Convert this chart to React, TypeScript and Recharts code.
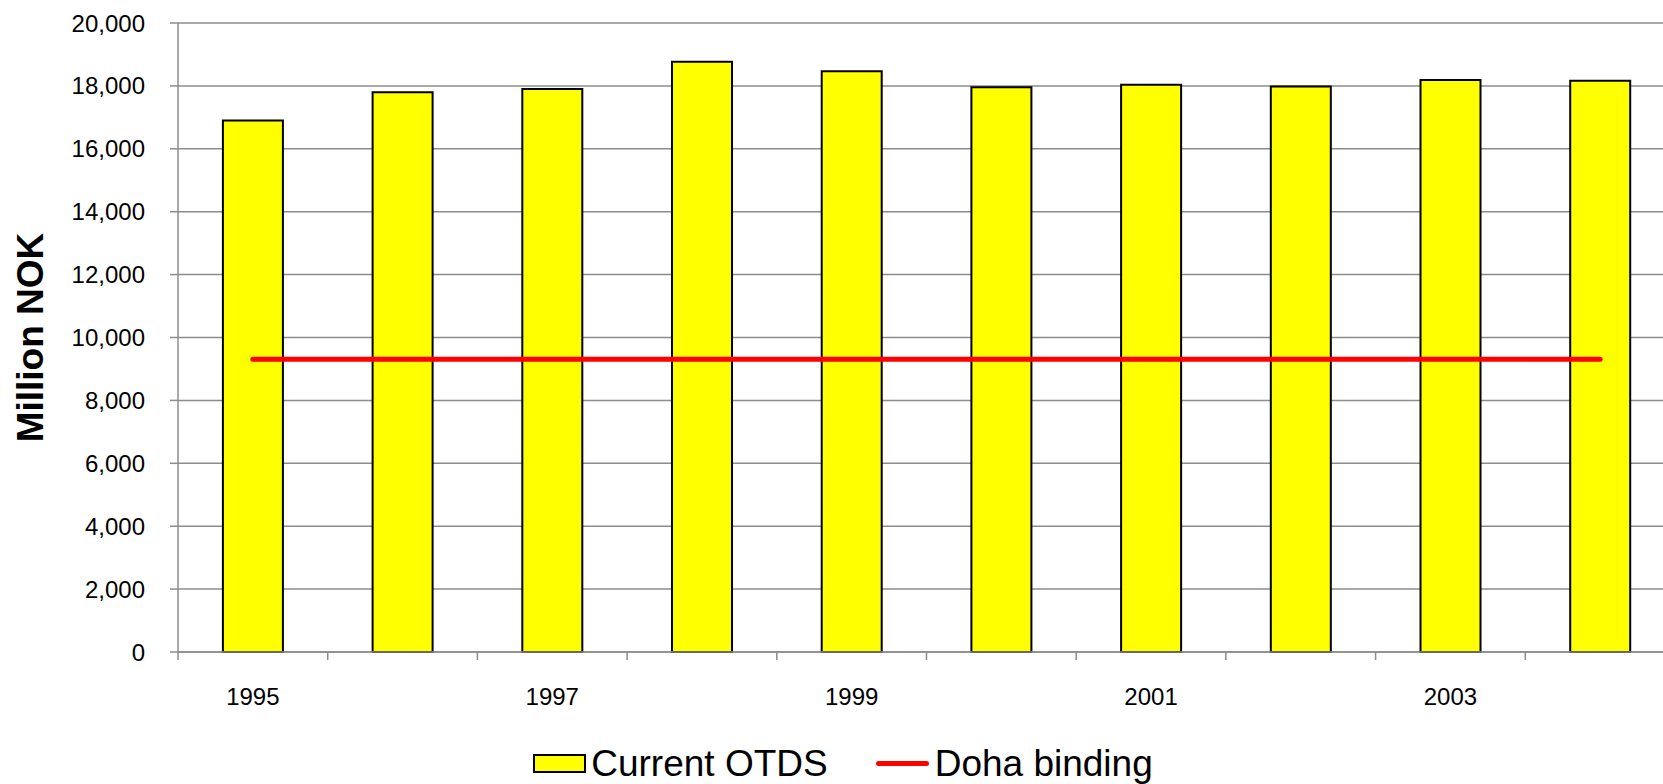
import React from 'react'
import {
  ComposedChart,
  Bar,
  Line,
  XAxis,
  YAxis,
  CartesianGrid,
  Legend,
} from 'recharts'

const years = ['1995', '1996', '1997', '1998', '1999', '2000', '2001', '2002', '2003', '2004']
const currentOtds = [16900, 17800, 17900, 18770, 18465, 17960, 18040, 17980, 18190, 18160]
const dohaBinding = [9310, 9310, 9310, 9310, 9310, 9310, 9310, 9310, 9310, 9310]
const yTicks = [0, 2000, 4000, 6000, 8000, 10000, 12000, 14000, 16000, 18000, 20000]

const data = years.map((year, i) => ({
  year,
  current: currentOtds[i],
  doha: dohaBinding[i],
}))

const FONT = '"Liberation Sans", Arial, sans-serif'
const GRID = '#8c8c8c'

// category tick: mark on the left boundary of each band, label on every other year
function YearTick(props: any) {
  const { x, y, payload, index } = props
  const half = payload && payload.offset ? payload.offset : 0
  return (
    <g>
      <line x1={x - half} x2={x - half} y1={y} y2={y + 8} stroke={GRID} strokeWidth={1.5} />
      {index % 2 === 0 && (
        <text x={x} y={y + 36} dy="0.71em" textAnchor="middle" fontSize={24} fill="#000">
          {payload.value}
        </text>
      )}
    </g>
  )
}

function ChartLegend() {
  return (
    <div
      style={{
        height: 72,
        display: 'flex',
        justifyContent: 'center',
        alignItems: 'center',
        fontFamily: FONT,
        fontSize: 37,
        lineHeight: 1,
        color: '#000',
        paddingTop: 30,
        boxSizing: 'border-box',
        paddingLeft: 11,
      }}
    >
      <span style={{ display: 'inline-flex', alignItems: 'center', marginRight: 48 }}>
        <span
          style={{
            width: 53,
            height: 19,
            background: '#ffff00',
            border: '2px solid #000',
            marginRight: 5,
            boxSizing: 'border-box',
          }}
        />
        Current OTDS
      </span>
      <span style={{ display: 'inline-flex', alignItems: 'center' }}>
        <span
          style={{
            width: 53,
            height: 5,
            background: '#ff0000',
            borderRadius: 3,
            marginRight: 6,
          }}
        />
        Doha binding
      </span>
    </div>
  )
}

export default function App() {
  return (
    <div
      style={{
        position: 'absolute',
        left: 0,
        top: 0,
        width: 1663,
        height: 784,
        overflow: 'hidden',
        background: '#fff',
      }}
    >
      <ComposedChart
        width={1680}
        height={784}
        data={data}
        margin={{ top: 23, right: 5, bottom: 0, left: 0 }}
        barCategoryGap="30%"
        style={{ fontFamily: FONT }}
      >
        <CartesianGrid vertical={false} stroke={GRID} strokeWidth={1.5} />
        <XAxis
          dataKey="year"
          interval={0}
          tickLine={false}
          tickSize={0}
          tickMargin={0}
          height={60}
          axisLine={{ stroke: GRID, strokeWidth: 1.5 }}
          tick={<YearTick />}
        />
        <YAxis
          domain={[0, 20000]}
          ticks={yTicks}
          width={178}
          tickSize={8}
          tickMargin={25}
          tickFormatter={(v: number) => v.toLocaleString('en-US')}
          axisLine={{ stroke: GRID, strokeWidth: 1.5 }}
          tickLine={{ stroke: GRID, strokeWidth: 1.5 }}
          tick={{ fill: '#000', fontSize: 24 }}
          label={{
            value: 'Million NOK',
            angle: -90,
            position: 'insideLeft',
            offset: 30,
            style: { fontSize: 37, fontWeight: 'bold', fill: '#000', textAnchor: 'middle' },
          }}
        />
        <Bar
          dataKey="current"
          name="Current OTDS"
          fill="#ffff00"
          stroke="#000"
          strokeWidth={2}
          isAnimationActive={false}
        />
        <Line
          dataKey="doha"
          name="Doha binding"
          stroke="#ff0000"
          strokeWidth={5}
          strokeLinecap="round"
          dot={false}
          activeDot={false}
          isAnimationActive={false}
        />
        <Legend verticalAlign="bottom" content={() => <ChartLegend />} />
      </ComposedChart>
    </div>
  )
}
